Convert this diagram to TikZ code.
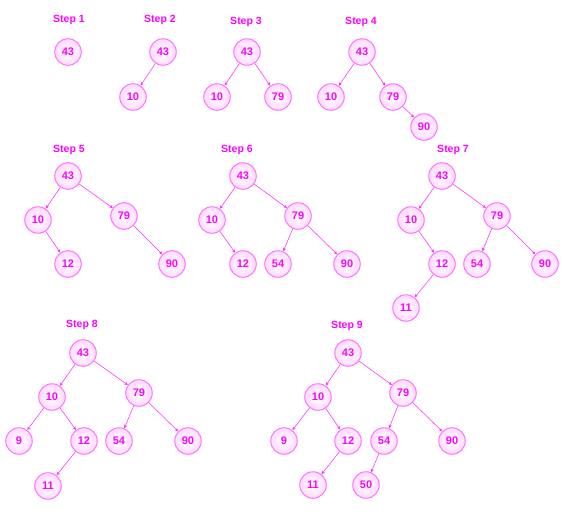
\documentclass[tikz,border=0pt]{standalone}
\usepackage{fontspec}
\setmainfont{Liberation Sans}
\usetikzlibrary{arrows.meta}
\definecolor{mag}{HTML}{FF00FF}
\definecolor{magline}{HTML}{FF70FF}
\definecolor{magedge}{HTML}{FF30FF}
\tikzset{
  nd/.style={circle, draw=magline, line width=1pt, minimum size=26.5pt, inner sep=0pt,
    inner color=white, outer color=mag!14, text=mag, font=\fontsize{11}{12}\selectfont\bfseries},
  lbl/.style={text=mag, font=\fontsize{10.5}{12}\selectfont\bfseries, inner sep=0pt},
  edge/.style={draw=magedge, line width=0.55pt, -{Stealth[length=3.5pt,width=3.2pt]}}
}
\begin{document}
\begin{tikzpicture}[x=1pt,y=-1pt]
\useasboundingbox (0,0) rectangle (563,517);
% Step 1
\node[lbl] (s1) at (69,20) {Step 1};
\node[nd] (a43) at (68,52) {43};
% Step 2
\node[lbl] (s2) at (160,20) {Step 2};
\node[nd] (b43) at (163,52) {43};
\node[nd] (b10) at (133,97) {10};
\draw[edge] (b43) -- (b10);
% Step 3
\node[lbl] (s3) at (246,22) {Step 3};
\node[nd] (c43) at (247,52) {43};
\node[nd] (c10) at (217,97) {10};
\node[nd] (c79) at (278,97) {79};
\draw[edge] (c43) -- (c10);
\draw[edge] (c43) -- (c79);
% Step 4
\node[lbl] (s4) at (361,22) {Step 4};
\node[nd] (d43) at (362,52) {43};
\node[nd] (d10) at (331,97) {10};
\node[nd] (d79) at (393,97) {79};
\node[nd] (d90) at (424,127) {90};
\draw[edge] (d43) -- (d10);
\draw[edge] (d43) -- (d79);
\draw[edge] (d79) -- (d90);
% Step 5
\node[lbl] (s5) at (69,150) {Step 5};
\node[nd] (e43) at (68,176) {43};
\node[nd] (e10) at (38,220) {10};
\node[nd] (e79) at (124,216) {79};
\node[nd] (e12) at (68,264) {12};
\node[nd] (e90) at (172,264) {90};
\draw[edge] (e43) -- (e10);
\draw[edge] (e43) -- (e79);
\draw[edge] (e10) -- (e12);
\draw[edge] (e79) -- (e90);
% Step 6
\node[lbl] (s6) at (237,150) {Step 6};
\node[nd] (f43) at (243,176) {43};
\node[nd] (f10) at (212,220) {10};
\node[nd] (f79) at (298,216) {79};
\node[nd] (f12) at (243,264) {12};
\node[nd] (f54) at (278,264) {54};
\node[nd] (f90) at (347,264) {90};
\draw[edge] (f43) -- (f10);
\draw[edge] (f43) -- (f79);
\draw[edge] (f10) -- (f12);
\draw[edge] (f79) -- (f54);
\draw[edge] (f79) -- (f90);
% Step 7
\node[lbl] (s7) at (453,150) {Step 7};
\node[nd] (g43) at (442,176) {43};
\node[nd] (g10) at (411,220) {10};
\node[nd] (g79) at (497,216) {79};
\node[nd] (g12) at (442,264) {12};
\node[nd] (g54) at (477,264) {54};
\node[nd] (g90) at (545,264) {90};
\node[nd] (g11) at (406,308) {11};
\draw[edge] (g43) -- (g10);
\draw[edge] (g43) -- (g79);
\draw[edge] (g10) -- (g12);
\draw[edge] (g79) -- (g54);
\draw[edge] (g79) -- (g90);
\draw[edge] (g12) -- (g11);
% Step 8
\node[lbl] (s8) at (82,325) {Step 8};
\node[nd] (h43) at (83,353) {43};
\node[nd] (h10) at (52,397) {10};
\node[nd] (h79) at (139,393) {79};
\node[nd] (h9) at (19,441) {9};
\node[nd] (h12) at (84,441) {12};
\node[nd] (h54) at (119,441) {54};
\node[nd] (h90) at (188,441) {90};
\node[nd] (h11) at (48,486) {11};
\draw[edge] (h43) -- (h10);
\draw[edge] (h43) -- (h79);
\draw[edge] (h10) -- (h9);
\draw[edge] (h10) -- (h12);
\draw[edge] (h79) -- (h54);
\draw[edge] (h79) -- (h90);
\draw[edge] (h12) -- (h11);
% Step 9
\node[lbl] (s9) at (347,326) {Step 9};
\node[nd] (i43) at (348,353) {43};
\node[nd] (i10) at (318,397) {10};
\node[nd] (i79) at (403,393) {79};
\node[nd] (i9) at (284,441) {9};
\node[nd] (i12) at (348,441) {12};
\node[nd] (i54) at (384,441) {54};
\node[nd] (i90) at (452,441) {90};
\node[nd] (i11) at (313,485) {11};
\node[nd] (i50) at (366,485) {50};
\draw[edge] (i43) -- (i10);
\draw[edge] (i43) -- (i79);
\draw[edge] (i10) -- (i9);
\draw[edge] (i10) -- (i12);
\draw[edge] (i79) -- (i54);
\draw[edge] (i79) -- (i90);
\draw[edge] (i12) -- (i11);
\draw[edge] (i54) -- (i50);
\end{tikzpicture}
\end{document}
